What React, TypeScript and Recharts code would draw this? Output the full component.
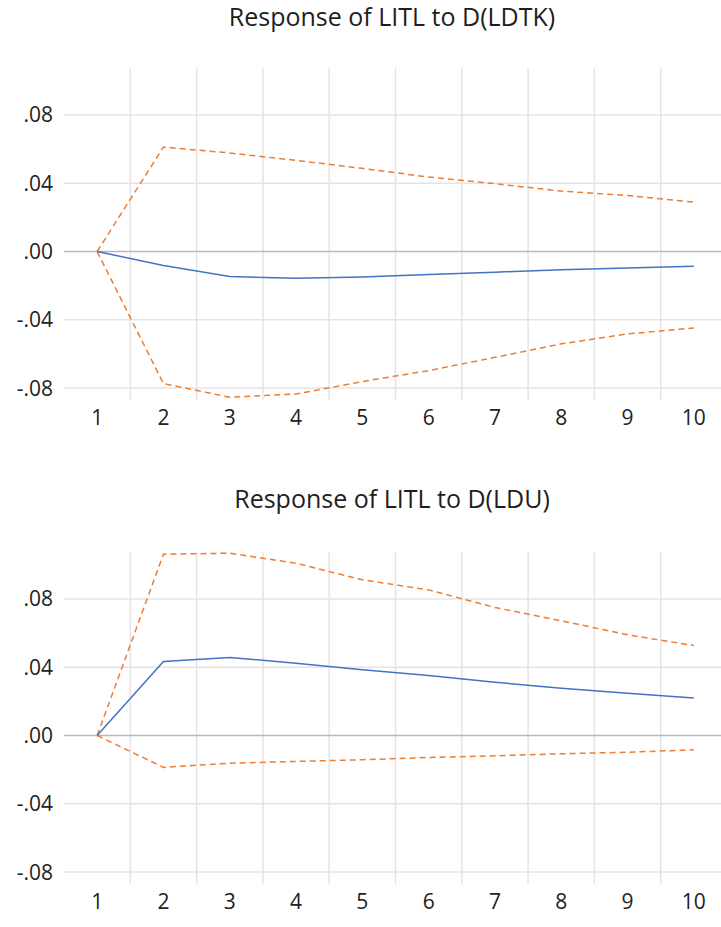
import { LineChart, Line, XAxis, YAxis, ReferenceLine } from "recharts";

const steps = [1, 2, 3, 4, 5, 6, 7, 8, 9, 10];
const gridSteps = [1.5, 2.5, 3.5, 4.5, 5.5, 6.5, 7.5, 8.5, 9.5];
const yTicks = [-0.08, -0.04, 0, 0.04, 0.08];

// Response of LITL to D(LDTK)
const ldtkResp = [0, -0.0082, -0.0147, -0.0157, -0.0149, -0.0135, -0.0121, -0.0107, -0.0096, -0.0086];
const ldtkUpper = [0, 0.0612, 0.0577, 0.0534, 0.0487, 0.0436, 0.0397, 0.0354, 0.0328, 0.0289];
const ldtkLower = [0, -0.0774, -0.0854, -0.0835, -0.0762, -0.0698, -0.062, -0.0541, -0.0483, -0.0448];

// Response of LITL to D(LDU)
const lduResp = [0, 0.0433, 0.0457, 0.0423, 0.0385, 0.0351, 0.0312, 0.0277, 0.0248, 0.0219];
const lduUpper = [0, 0.1062, 0.1068, 0.1009, 0.0912, 0.0853, 0.075, 0.0672, 0.059, 0.0527];
const lduLower = [0, -0.0187, -0.0162, -0.0152, -0.0142, -0.0129, -0.0119, -0.0107, -0.0098, -0.0084];

const fmt = (v: number) => (v < 0 ? "-" : "") + Math.abs(v).toFixed(2).replace(/^0/, "");

const tickStyle = { fontFamily: "Open Sans", fontSize: 21, fill: "#222" };

type PanelProps = {
  title: string;
  resp: number[];
  upper: number[];
  lower: number[];
  top: number;
  titleTop: number;
};

const Panel = ({ title, resp, upper, lower, top, titleTop }: PanelProps) => {
  const data = steps.map((s, i) => ({ step: s, resp: resp[i], upper: upper[i], lower: lower[i] }));
  return (
    <>
      <div
        style={{
          position: "absolute",
          left: 62,
          width: 660,
          top: titleTop,
          textAlign: "center",
          fontFamily: "Open Sans",
          fontSize: 25,
          lineHeight: "25px",
          color: "#1e1e1e",
        }}
      >
        {title}
      </div>
      <div style={{ position: "absolute", left: 0, top: top }}>
        <LineChart width={730} height={440} data={data} margin={{ top: 68, right: 3, bottom: 0, left: 0 }}>
          <XAxis xAxisId="grid" type="number" dataKey="step" domain={[0.5, 10.5]} ticks={gridSteps} hide />
          <XAxis
            type="number"
            dataKey="step"
            domain={[0.5, 10.5]}
            ticks={steps}
            axisLine={false}
            tickLine={false}
            tickMargin={4}
            height={40}
            tick={tickStyle}
          />
          <YAxis
            type="number"
            domain={[-0.087, 0.1075]}
            allowDataOverflow
            ticks={yTicks}
            tickFormatter={fmt}
            axisLine={false}
            tickLine={false}
            tickMargin={5}
            width={64}
            tick={tickStyle}
          />
          {gridSteps.map((g) => (
            <ReferenceLine key={"x" + g} xAxisId="grid" x={g} stroke="#e4e4e4" strokeWidth={1.5} />
          ))}
          {yTicks.map((t) => (
            <ReferenceLine key={"y" + t} y={t} stroke={t === 0 ? "#b8b8b8" : "#e4e4e4"} strokeWidth={1.5} />
          ))}
          <Line type="linear" dataKey="upper" stroke="#ED7D31" strokeWidth={1.5} strokeDasharray="6 4" dot={false} isAnimationActive={false} />
          <Line type="linear" dataKey="lower" stroke="#ED7D31" strokeWidth={1.5} strokeDasharray="6 4" dot={false} isAnimationActive={false} />
          <Line type="linear" dataKey="resp" stroke="#4472C4" strokeWidth={1.5} dot={false} isAnimationActive={false} />
        </LineChart>
      </div>
    </>
  );
};

export default function App() {
  return (
    <div style={{ position: "absolute", left: 0, top: 0, width: 721, height: 927, overflow: "hidden", background: "#fff" }}>
      <Panel title="Response of LITL to D(LDTK)" resp={ldtkResp} upper={ldtkUpper} lower={ldtkLower} top={0} titleTop={4} />
      <Panel title="Response of LITL to D(LDU)" resp={lduResp} upper={lduUpper} lower={lduLower} top={484} titleTop={486} />
    </div>
  );
}
